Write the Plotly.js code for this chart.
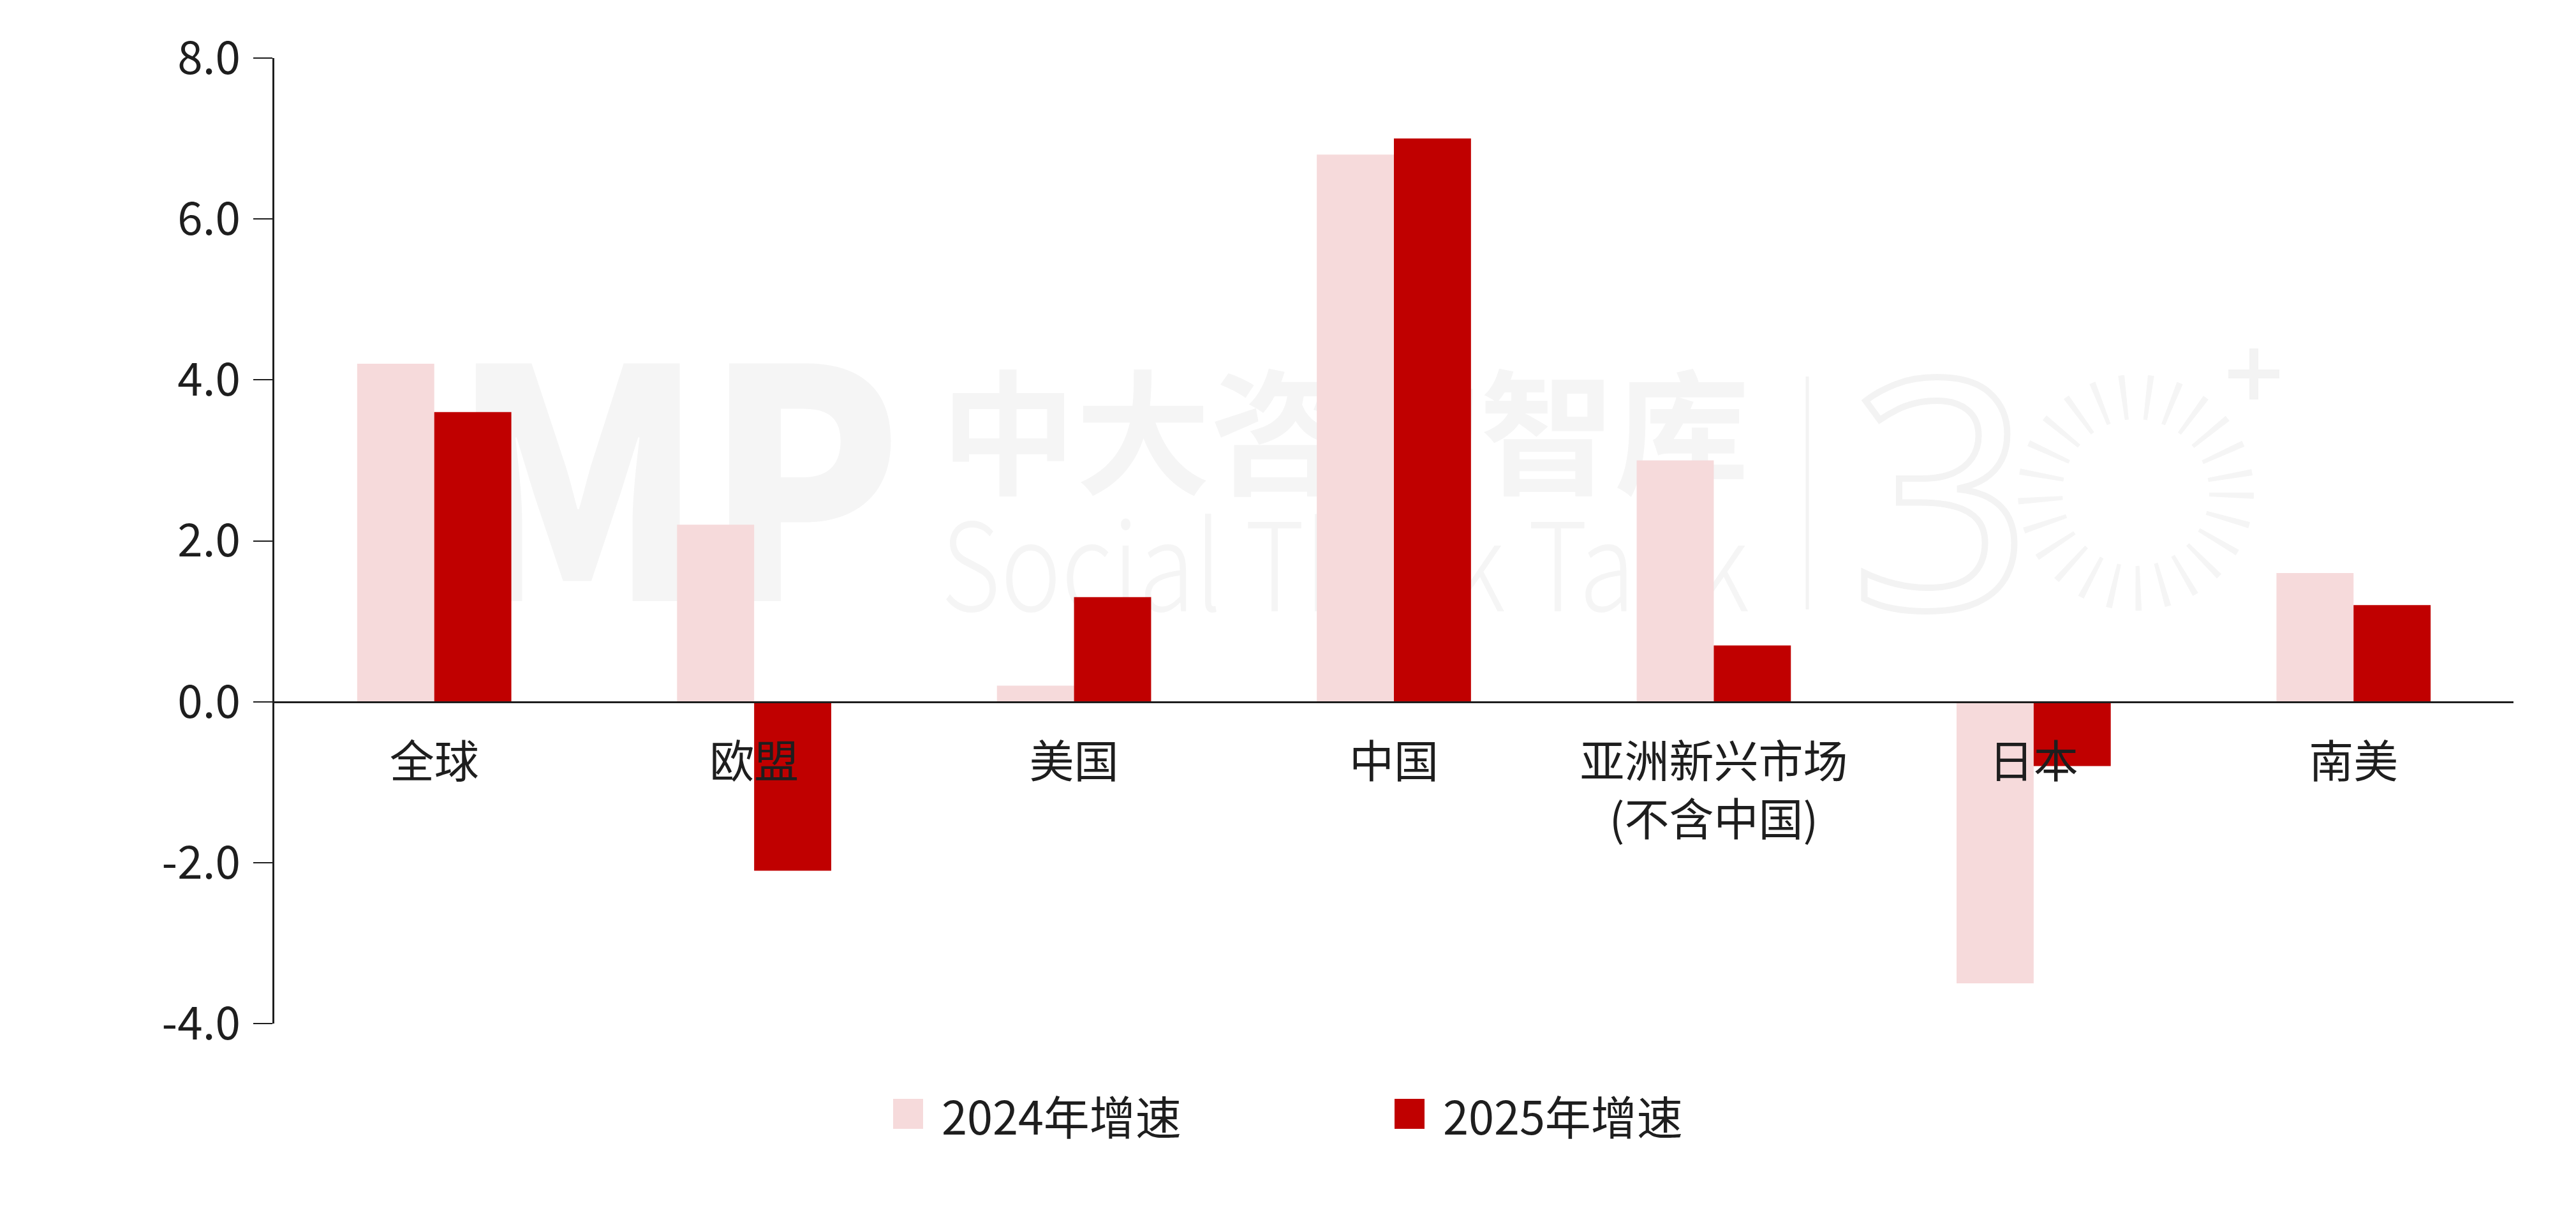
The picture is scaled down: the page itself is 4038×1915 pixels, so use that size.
<!DOCTYPE html>
<html>
<head>
<meta charset="utf-8">
<script src="https://cdn.plot.ly/plotly-3.0.1.min.js"></script>
<style>html,body{margin:0;padding:0;background:#fff;}#chart{width:4038px;height:1915px;}</style>
</head>
<body>
<div id="chart"></div>
<script>
const categories = ['全球', '欧盟', '美国', '中国', '亚洲新兴市场<br>(不含中国)', '日本', '南美'];
const growth2024 = [4.2, 2.2, 0.2, 6.8, 3.0, -3.5, 1.6];
const growth2025 = [3.6, -2.1, 1.3, 7.0, 0.7, -0.8, 1.2];
const seriesNames = ['2024年增速', '2025年增速'];
const yTickVals = [-4, -2, 0, 2, 4, 6, 8];
const yTickText = ['-4.0', '-2.0', '0.0', '2.0', '4.0', '6.0', '8.0'];

const colors = ['#F6DADB', '#C00000'];
const FONT = '"Noto Sans CJK SC", "Noto Sans", sans-serif';
const TXT = '#1e1e1e';

// faint watermark drawn below the bars
const wm = `<svg xmlns="http://www.w3.org/2000/svg" width="3510" height="1513" viewBox="0 0 3510 1513">
<g fill="#F5F5F5" font-family="Noto Sans CJK SC, Noto Sans, sans-serif">
<text x="277" y="851" font-size="500" font-weight="900" textLength="708" lengthAdjust="spacingAndGlyphs">MP</text>
<text x="1045" y="668" font-size="211" font-weight="700" textLength="1267" lengthAdjust="spacingAndGlyphs">中大咨询智库</text>
<text x="1045" y="867" font-size="192" font-weight="300" textLength="1267" lengthAdjust="spacingAndGlyphs">Social Think Tank</text>
</g>
<line x1="2403" y1="499" x2="2403" y2="864" stroke="#F3F3F3" stroke-width="5"/>
<text x="2470" y="862" font-size="500" font-family="Noto Sans, sans-serif" fill="none" stroke="#F3F3F3" stroke-width="10">3</text>
<circle cx="2918" cy="681" r="150" fill="none" stroke="#F5F5F5" stroke-width="70" stroke-dasharray="8 30"/>
<path d="M3103 455 V535 M3063 495 H3143" stroke="#F3F3F3" stroke-width="14"/>
</svg>`;
const wmURI = 'data:image/svg+xml;charset=utf-8,' + encodeURIComponent(wm);

const traces = [
  {type: 'bar', name: seriesNames[0], x: categories, y: growth2024,
   marker: {color: colors[0]}, showlegend: false, hoverinfo: 'skip'},
  {type: 'bar', name: seriesNames[1], x: categories, y: growth2025,
   marker: {color: colors[1]}, showlegend: false, hoverinfo: 'skip'}
];

// Legend drawn as shapes + annotations (large swatches)
const W = 3510, H = 1513, L = 430, T = 91;
const px = v => (v - L) / W;
const py = v => (T + H - v) / H;
const legendSwatchX = [1400, 2186];
const legendTextX = [1474, 2260];
const legendY0 = 1722, legendY1 = 1769, legendYc = 1746;

const shapes = seriesNames.map((n, i) => ({
  type: 'rect', xref: 'paper', yref: 'paper',
  x0: px(legendSwatchX[i]), x1: px(legendSwatchX[i] + 47),
  y0: py(legendY1), y1: py(legendY0),
  fillcolor: colors[i], line: {width: 0}
}));
const annotations = seriesNames.map((n, i) => ({
  xref: 'paper', yref: 'paper', x: px(legendTextX[i]), y: py(legendYc),
  xanchor: 'left', yanchor: 'middle', showarrow: false, text: n,
  font: {family: FONT, size: 72, color: TXT}
}));

const layout = {
  width: 4038, height: 1915,
  margin: {l: L, r: 4038 - L - W, t: T, b: 1915 - T - H, pad: 0},
  paper_bgcolor: '#ffffff', plot_bgcolor: 'rgba(0,0,0,0)',
  barmode: 'group', bargap: 0.518, bargroupgap: 0,
  showlegend: false,
  font: {family: FONT, color: TXT},
  xaxis: {
    type: 'category', range: [-0.5, 6.5], anchor: 'free', position: 1 / 3,
    showline: true, linewidth: 3, linecolor: TXT, ticks: '', showgrid: false,
    zeroline: false, tickfont: {family: FONT, size: 70, color: TXT},
    ticklabelstandoff: 33, fixedrange: true
  },
  yaxis: {
    range: [-4, 8], tickvals: yTickVals, ticktext: yTickText,
    ticks: 'outside', ticklen: 30, tickwidth: 2, tickcolor: TXT,
    showline: true, linewidth: 3, linecolor: TXT, showgrid: false, zeroline: false,
    tickfont: {family: FONT, size: 71, color: TXT}, ticklabelstandoff: 6, fixedrange: true
  },
  images: [{source: wmURI, xref: 'paper', yref: 'paper', x: 0, y: 1, sizex: 1, sizey: 1,
            xanchor: 'left', yanchor: 'top', sizing: 'stretch', layer: 'below'}],
  shapes: shapes,
  annotations: annotations
};

Plotly.newPlot('chart', traces, layout, {displayModeBar: false, staticPlot: true});
</script>
</body>
</html>
